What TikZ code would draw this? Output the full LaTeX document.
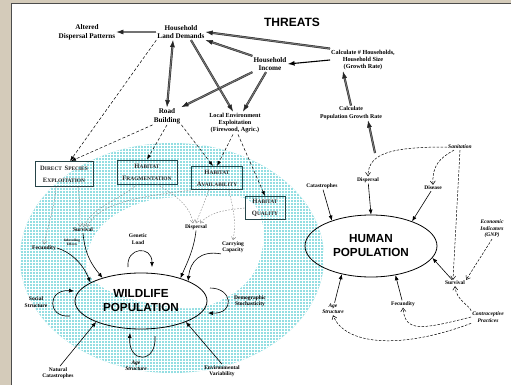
\documentclass[tikz,border=0pt]{standalone}
\usepackage{fontspec}
\setmainfont{Liberation Serif}
\newfontfamily\arialfont{Liberation Sans}
\usetikzlibrary{arrows.meta,shapes.geometric,calc}

\definecolor{paper}{RGB}{212,203,186}
\definecolor{ringteal}{RGB}{148,222,226}
\definecolor{boxedge}{RGB}{38,68,72}

% faked small capitals: first letter large, rest small
\newcommand\mysc[2]{{\fontsize{6.6}{8}\selectfont #1}{\fontsize{5.4}{8}\selectfont #2}}

\begin{document}
\begin{tikzpicture}[x=1pt,y=-1pt,
  lbl/.style={font=\fontsize{7.2}{8.8}\selectfont\bfseries, align=center, inner sep=1pt},
  mlbl/.style={font=\fontsize{6.2}{7.4}\selectfont\bfseries, align=center, inner sep=1pt},
  slbl/.style={font=\fontsize{5.5}{6.4}\selectfont\bfseries, align=center, inner sep=1pt},
  sital/.style={font=\fontsize{5.5}{6.4}\selectfont\bfseries\itshape, align=center, inner sep=1pt},
  tiny/.style={font=\fontsize{3.4}{4}\selectfont\bfseries, align=center, inner sep=0.5pt},
  title/.style={font=\arialfont\bfseries\fontsize{12}{14}\selectfont},
  popn/.style={ellipse, draw, line width=0.8pt, inner sep=0pt, align=center,
    font=\arialfont\bfseries\fontsize{11.7}{14}\selectfont},
  hbox/.style={draw=boxedge, line width=0.9pt, align=center, inner sep=1pt,
    font=\bfseries, text=black!85},
  sarr/.style={draw, line width=0.6pt, -{Latex[length=5pt,width=4pt]}},
  bigarr/.style={draw, line width=1.1pt, -{Latex[length=7pt,width=5pt]}},
  dbl/.style={draw=black!85, line width=0.5pt, double=black!55, double distance=1.1pt,
    -{Latex[length=7pt,width=5pt]}},
  dbltwo/.style={draw=black!85, line width=0.5pt, double=black!55, double distance=1.1pt,
    {Latex[length=7pt,width=5pt]}-{Latex[length=7pt,width=5pt]}},
  darr/.style={draw, line width=0.5pt, dash pattern=on 3pt off 2pt,
    -{Latex[length=5pt,width=3.5pt]}},
  varr/.style={draw, line width=0.5pt, dash pattern=on 2.5pt off 1.5pt,
    -{Straight Barb[length=3.5pt,width=5pt]}},
  gdash/.style={draw=black!50, line width=0.4pt, dash pattern=on 1.5pt off 1.5pt,
    -{Straight Barb[length=3pt,width=4.5pt]}}
]
\useasboundingbox (0,0) rectangle (511,385);

% paper and panel
\fill[paper] (0,0) rectangle (511,385);
\fill[white] (11,4) rectangle (511,385);
\draw[black!70, line width=1pt] (11,385) -- (11,4) -- (511,4);

% shaded ring of habitat effects
\fill[ringteal] (172,258) ellipse [x radius=152, y radius=115];
\begin{scope}
  \clip (172,258) ellipse [x radius=152, y radius=115];
  \foreach \i in {20,23,...,326} \draw[white, line width=0.3pt] (\i,140) -- (\i,380);
  \foreach \j in {142,145,...,376} \draw[white, line width=0.3pt] (18,\j) -- (328,\j);
\end{scope}
\fill[white] plot[smooth cycle, tension=0.7] coordinates {
  (86,262) (100,228) (135,205) (175,197) (215,196) (248,200) (262,222)
  (262,250) (250,278) (225,298) (195,308) (160,305) (125,297) (97,283)};

% ---------- threats ----------
\node[title] (threats) at (292,22) {THREATS};
\node[lbl] (alt) at (87,32) {Altered\\Dispersal Patterns};
\node[lbl] (ld) at (181,32) {Household\\Land Demands};
\node[lbl] (inc) at (270,64) {Household\\Income};
\node[mlbl] (calc) at (363,60) {Calculate \# Households,\\Household Size\\(Growth Rate)};
\node[mlbl, font=\fontsize{5.9}{7.2}\selectfont\bfseries] (cpg) at (351,113) {Calculate\\Population Growth Rate};
\node[lbl] (rb) at (167,116) {Road\\Building};
\node[mlbl] (le) at (235,123) {Local Environment\\Exploitation\\(Firewood, Agric.)};

\draw[dbl] (ld.west) -- (alt.east);
\draw[dbl] (calc.north west) -- (ld.east);
\draw[bigarr] (calc.west) -- (inc.east);
\draw[dbl] (inc.north west) -- (ld.south east);
\draw[dbltwo] ([xshift=-8pt]ld.south) -- (rb.north);
\draw[dbl] (inc.south west) -- (rb.north east);
\draw[dbl] ([xshift=-4pt]inc.south) -- ([xshift=8pt]le.north);
\draw[dbl] ([xshift=10pt]ld.south) -- ([xshift=-2pt]le.north);
\draw[dbl] (cpg.north) -- ([xshift=-20pt]calc.south);
\coordinate (hfeed) at (375,153);
\draw[dbl] (hfeed) -- ([xshift=17pt]cpg.south);

% ---------- habitat boxes ----------
\node[hbox, minimum width=58pt, minimum height=25pt] (dse) at (64,174)
  {\mysc{D}{IRECT} \mysc{S}{PECIES}\\\mysc{E}{XPLOITATION}};
\node[hbox, minimum width=60pt, minimum height=24pt] (hf) at (147,172)
  {\mysc{H}{ABITAT}\\\mysc{F}{RAGMENTATION}};
\node[hbox, minimum width=51pt, minimum height=23pt] (ha) at (217,178)
  {\mysc{H}{ABITAT}\\\mysc{A}{VAILABILITY}};
\node[hbox, minimum width=40pt, minimum height=23pt] (hq) at (265,208)
  {\mysc{H}{ABITAT}\\\mysc{Q}{UALITY}};

\draw[darr] (ld.south west) -- ([xshift=6pt]dse.north);
\draw[darr] (rb.south west) -- ([xshift=7pt]dse.north);
\draw[darr] (rb.south) -- (hf.north);
\draw[darr] (rb.south east) -- ([xshift=-4pt]ha.north);
\draw[darr] ([xshift=-2pt]le.south) -- (ha.north);
\draw[darr] ([xshift=3pt]le.south) -- (hq.north);

% ---------- wildlife population ----------
\node[popn, minimum width=132pt, minimum height=56pt] (wp) at (141,301) {WILDLIFE\\POPULATION};

\node[slbl] (wsurv) at (83,230) {Survival};
\node[tiny] (inbr) at (72,242) {Inbreeding\\Effects};
\node[slbl] (wfec) at (44,248) {Fecundity};
\node[slbl] (gload) at (138,239) {Genetic\\Load};
\node[slbl] (wdisp) at (196,227) {Dispersal};
\node[slbl] (carry) at (233,247) {Carrying\\Capacity};
\node[slbl] (social) at (36,302) {Social\\Structure};
\node[slbl] (demo) at (250,301) {Demographic\\Stochasticity};
\node[slbl] (natc) at (58,373) {Natural\\Catastrophes};
\node[sital] (wage) at (136,366) {Age\\Structure};
\node[slbl] (envv) at (222,371) {Environmental\\Variability};

\draw[gdash] ([xshift=-8pt]dse.south) .. controls (55,205) and (48,225) .. (wfec.north);
\draw[gdash] ([xshift=14pt]dse.south) .. controls (80,200) and (80,212) .. ([xshift=-3pt]wsurv.north);
\draw[gdash] ([xshift=-10pt]hf.south) .. controls (120,200) and (95,205) .. (wsurv.north);
\draw[gdash] (ha.south west) .. controls (150,196) and (100,200) .. ([xshift=4pt]wsurv.north);
\draw[gdash] ([xshift=10pt]hf.south) .. controls (175,195) and (190,205) .. ([xshift=-3pt]wdisp.north);
\draw[gdash] ([xshift=-8pt]ha.south) -- (wdisp.north);
\draw[gdash] (hq.west) .. controls (225,210) and (210,212) .. ([xshift=4pt]wdisp.north);
\draw[gdash] ([xshift=12pt]ha.south) .. controls (232,205) and (237,220) .. (carry.north);

\draw[sarr] (wsurv.south) .. controls (85,255) and (92,265) .. (wp.149);
\draw[sarr] (wfec.east) .. controls (70,252) and (82,262) .. (wp.160);
\draw[sarr] (wdisp.south) .. controls (194,250) and (186,265) .. (wp.30);
\draw[sarr] (carry.south west) .. controls (200,250) and (190,262) .. (wp.23);

\coordinate (glA) at (128,267); \coordinate (glB) at (152,267);
\draw[sarr] (glA) .. controls (126,247) and (152,245) .. (glB);
\coordinate (soA) at (70,316); \coordinate (soB) at (74,291);
\draw[sarr] (soA) .. controls (47,318) and (47,289) .. (soB);
\coordinate (dmA) at (210,288); \coordinate (dmB) at (208,313);
\draw[sarr] (dmA) .. controls (233,288) and (235,314) .. (dmB);
\coordinate (agA) at (155,336); \coordinate (agB) at (130,333);
\draw[sarr] (agA) .. controls (157,364) and (128,364) .. (agB);

\draw[sarr] ([xshift=2pt]natc.north) -- (wp.205);
\draw[sarr] (envv.north) -- (wp.335);

% ---------- human population ----------
\node[popn, minimum width=132pt, minimum height=62pt] (hp) at (371,246) {HUMAN\\POPULATION};

\node[sital] (sanit) at (460,147) {Sanitation};
\node[slbl] (hdisp) at (368,180) {Dispersal};
\node[slbl] (dis) at (433,188) {Disease};
\node[slbl] (catas) at (322,186) {Catastrophes};
\node[sital] (econ) at (492,229) {Economic\\Indicators\\(GNP)};
\node[slbl] (hsurv) at (455,283) {Survival};
\node[sital] (contra) at (488,317) {Contraceptive\\Practices};
\node[slbl] (hfec) at (403,304) {Fecundity};
\node[sital] (hage) at (333,309) {Age\\Structure};

\draw[sarr] (hdisp) -- (hp.north);
\draw[sarr] (dis) -- (hp.31);
\draw[sarr] (catas) -- (hp.147);
\draw[sarr] (hsurv) -- (hp.349);
\draw[sarr] (hfec) -- (hp.310);
\draw[sarr] (hage) -- (hp.224);

\draw[varr] (sanit.west) .. controls (395,147) and (368,152) .. (hdisp.north);
\draw[varr] ([xshift=-6pt]sanit.south) .. controls (440,158) and (432,165) .. (dis.north);
\draw[varr] (sanit.south) -- ([xshift=-2pt]hsurv.north);
\draw[varr] (econ.south) -- (hsurv.north east);
\draw[varr] (contra.north west) .. controls (470,306) and (456,300) .. (hsurv.south);
\draw[varr] (contra.west) .. controls (420,330) and (405,332) .. (hfec.south);
\draw[varr] (contra.south west) .. controls (400,350) and (345,345) .. (hage.south);
\end{tikzpicture}
\end{document}
